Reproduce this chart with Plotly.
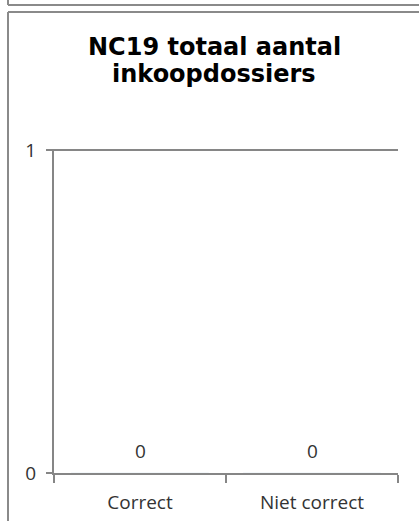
import plotly.graph_objects as go

categories = ["Correct", "Niet correct"]
values = [0, 0]
y_ticks = [0, 1]
title_lines = ["NC19 totaal aantal", "inkoopdossiers"]

W, H = 419, 521
L, R, T, B = 54, 21, 149, 48
pw, ph = W - L - R, H - T - B

def px(x):
    return (x - L) / pw

def py(y):
    return (H - B - y) / ph

LABEL_FONT = "Open Sans, Liberation Sans, sans-serif"
TEXT_COLOR = "#333333"
AXIS_COLOR = "#868686"

fig = go.Figure()
fig.add_trace(go.Bar(x=categories, y=values, marker_color="#4F81BD", showlegend=False))

for c, v in zip(categories, values):
    fig.add_annotation(x=c, y=v, text=str(v), showarrow=False, yshift=22,
                       font=dict(family=LABEL_FONT, size=19, color=TEXT_COLOR))

# two-line title with Excel-like tight line spacing
for line, ycen in zip(title_lines, [47, 74]):
    fig.add_annotation(xref="paper", yref="paper", x=px(214), y=py(ycen), text=f"<b>{line}</b>",
                       showarrow=False, xanchor="center", yanchor="middle",
                       font=dict(family="DejaVu Sans, Verdana, sans-serif", size=24, color="black"))

border = "#8a8a8a"
shapes = [
    dict(type="line", xref="paper", yref="paper", x0=px(8), x1=px(419), y0=py(5), y1=py(5),
         line=dict(color=border, width=2)),
    dict(type="line", xref="paper", yref="paper", x0=px(8), x1=px(8), y0=py(0), y1=py(5),
         line=dict(color=border, width=2)),
    dict(type="line", xref="paper", yref="paper", x0=px(8), x1=px(419), y0=py(12), y1=py(12),
         line=dict(color=border, width=2)),
    dict(type="line", xref="paper", yref="paper", x0=px(8), x1=px(8), y0=py(12), y1=py(521),
         line=dict(color=border, width=2)),
]

fig.update_layout(
    width=W, height=H,
    margin=dict(l=L, r=R, t=T, b=B, autoexpand=False),
    paper_bgcolor="white", plot_bgcolor="white",
    shapes=shapes,
    xaxis=dict(type="category", showline=True, linecolor=AXIS_COLOR, linewidth=2,
               ticks="outside", tickson="boundaries", ticklen=8, tickcolor=AXIS_COLOR, tickwidth=2,
               showgrid=False, ticklabelstandoff=11, automargin=False,
               tickfont=dict(family=LABEL_FONT, size=19, color=TEXT_COLOR),
               range=[-0.5, 1.5], fixedrange=True),
    yaxis=dict(range=[0, 1.004], tickvals=y_ticks, showline=True, linecolor=AXIS_COLOR, linewidth=2,
               ticks="outside", ticklen=6, tickcolor=AXIS_COLOR, tickwidth=2,
               showgrid=True, gridcolor=AXIS_COLOR, gridwidth=2, zeroline=False,
               ticklabelstandoff=6, fixedrange=True, automargin=False,
               tickfont=dict(family=LABEL_FONT, size=19, color=TEXT_COLOR)),
)

fig.write_html("out.html", config={"displayModeBar": False},
               post_script="document.body.style.margin='0';document.body.style.overflow='hidden';")
